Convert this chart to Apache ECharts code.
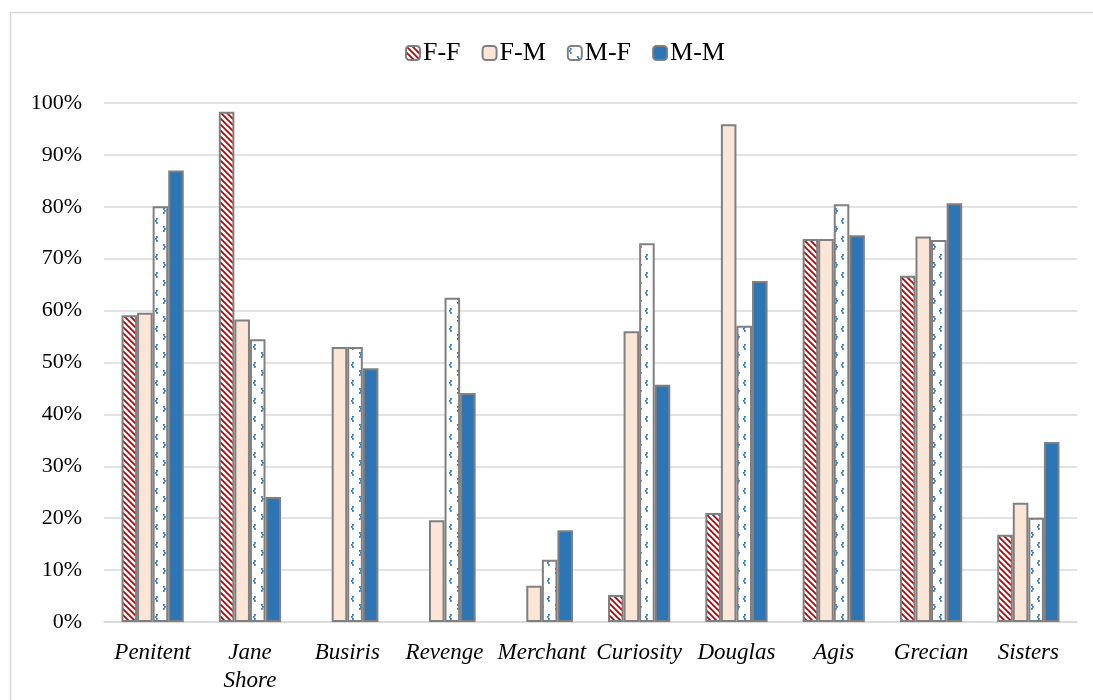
<!DOCTYPE html>
<html><head><meta charset="utf-8">
<script src="https://cdn.jsdelivr.net/npm/echarts@6/dist/echarts.min.js"></script>
<style>html,body{margin:0;padding:0;background:#fff}#c{width:1093px;height:700px}</style>
</head><body><div id="c"></div>
<script>
const categories = ['Penitent', 'Jane\nShore', 'Busiris', 'Revenge', 'Merchant', 'Curiosity', 'Douglas', 'Agis', 'Grecian', 'Sisters'];
const seriesNames = ['F-F', 'F-M', 'M-F', 'M-M'];
const ffValues = [59.1, 98.3, null, null, null, 5.2, 21.0, 73.8, 66.7, 16.8];
const fmValues = [59.6, 58.3, 53.0, 19.6, 7.0, 56.0, 95.9, 73.8, 74.3, 23.0];
const mfValues = [80.1, 54.5, 53.0, 62.5, 12.0, 73.0, 57.1, 80.5, 73.6, 20.1];
const mmValues = [87.0, 24.1, 48.9, 44.1, 17.7, 45.7, 65.7, 74.5, 80.7, 34.7];
const yTicks = [0, 10, 20, 30, 40, 50, 60, 70, 80, 90, 100];

function stripePattern() {
  const c = document.createElement('canvas');
  c.width = 6; c.height = 6;
  const g = c.getContext('2d');
  g.fillStyle = '#ffffff'; g.fillRect(0, 0, 6, 6);
  g.strokeStyle = '#c00000'; g.lineWidth = 1.8;
  g.beginPath();
  g.moveTo(-1, -1); g.lineTo(7, 7);
  g.moveTo(-4, 2); g.lineTo(2, 8);
  g.moveTo(2, -4); g.lineTo(8, 2);
  g.stroke();
  return c;
}
function dotPattern() {
  const c = document.createElement('canvas');
  c.width = 14; c.height = 18;
  const g = c.getContext('2d');
  g.fillStyle = '#ffffff'; g.fillRect(0, 0, 14, 18);
  g.fillStyle = '#2e75b6';
  const pts = [[2,2],[1,4],[2,6],[9,10],[10,12],[9,14]];
  pts.forEach(p => g.fillRect(p[0], p[1], 1.8, 1.8));
  return c;
}
const ffColor = { image: stripePattern(), repeat: 'repeat' };
const mfColor = { image: dotPattern(), repeat: 'repeat' };
const colors = [ffColor, '#fbe5d6', mfColor, '#2e75b6'];
const dataArr = [ffValues, fmValues, mfValues, mmValues];

const chart = echarts.init(document.getElementById('c'), null, { renderer: 'canvas' });
const font = '"Liberation Serif", "Times New Roman", serif';
chart.setOption({
  animation: false,
  backgroundColor: '#ffffff',
  textStyle: { fontFamily: font },
  graphic: [{
    type: 'rect', shape: { x: 10.5, y: 12.5, width: 1200, height: 800 },
    style: { fill: 'none', stroke: '#d9d9d9', lineWidth: 1.5 }, silent: true, z: -1
  }],
  legend: {
    top: 35, left: 400,
    itemWidth: 14, itemHeight: 14, itemGap: 21,
    textStyle: { fontFamily: font, fontSize: 26, color: '#000', padding: [0, 0, 0, -2] },
    data: seriesNames.map((n, i) => ({ name: n, itemStyle: { color: colors[i], borderColor: '#808080', borderWidth: 2 } }))
  },
  grid: { left: 104, right: 16, top: 103, bottom: 78, containLabel: false },
  xAxis: {
    type: 'category', data: categories,
    axisLine: { lineStyle: { color: '#d9d9d9', width: 1.5 } },
    axisTick: { show: false },
    axisLabel: { fontFamily: font, fontStyle: 'italic', fontSize: 23, color: '#000', margin: 17, lineHeight: 28, interval: 0 }
  },
  yAxis: {
    type: 'value', min: 0, max: 100, interval: 10,
    axisLabel: { formatter: v => v + '%', fontFamily: font, fontSize: 22, color: '#000', margin: 22 },
    splitLine: { lineStyle: { color: '#d9d9d9', width: 1.5 } },
    axisLine: { show: false }, axisTick: { show: false }
  },
  series: seriesNames.map((n, i) => ({
    name: n, type: 'bar', data: dataArr[i],
    barGap: '0%', barCategoryGap: '36%',
    itemStyle: { color: colors[i], borderColor: '#808080', borderWidth: 2 }
  }))
});
</script></body></html>
